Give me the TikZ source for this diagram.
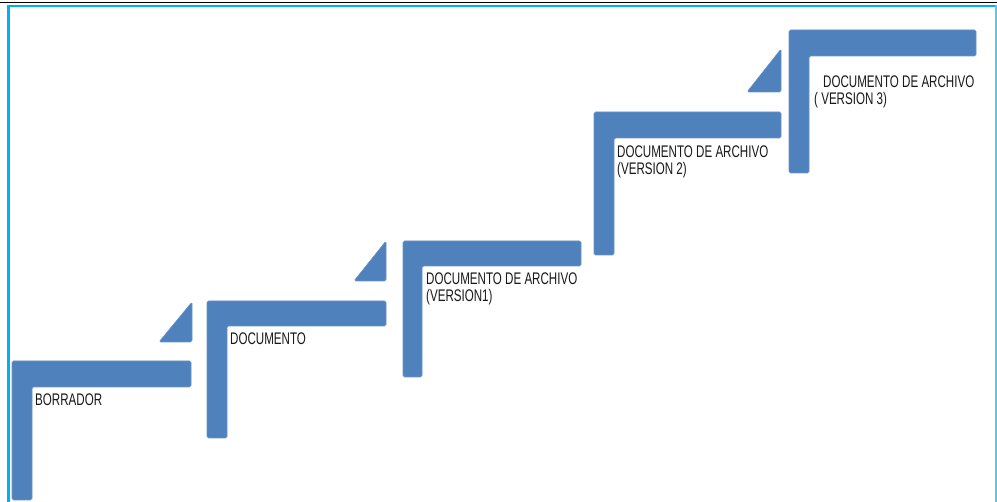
\documentclass[tikz,border=0pt]{standalone}
\usepackage{fontspec}
\setmainfont{Liberation Sans}[FakeStretch=0.69]
\definecolor{stepblue}{HTML}{4F81BD}
\definecolor{framecyan}{HTML}{00B0F0}
\definecolor{framecyanlight}{HTML}{55C8EE}
\begin{document}
\begin{tikzpicture}[x=1pt,y=-1pt,
  stairshape/.style={fill=stepblue, draw=stepblue!85!white, line width=0.6pt, rounded corners=1.5pt},
  label/.style={anchor=north west, inner sep=0pt, align=left, font=\fontsize{16.8}{17.5}\selectfont, text=black!90}]
\useasboundingbox (0,0) rectangle (997,502);
\fill[white] (0,0) rectangle (997,502);
% frame
\draw[black, line width=1.2pt] (0,2.2) -- (997,2.2);
\draw[framecyan, line width=2.4pt] (8.5,6.2) -- (997,6.2);
\draw[framecyan, line width=2.4pt] (8.5,5) -- (8.5,502);
\draw[framecyanlight, line width=2.2pt] (995.6,5) -- (995.6,502);
% L shapes
\newcommand{\lshape}[6]{\path[stairshape] (#1,#3) -- (#2,#3) -- (#2,#4) -- (#5,#4) -- (#5,#6) -- (#1,#6) -- cycle;}
\lshape{12}{191}{361}{387}{32}{500}
\lshape{207}{386}{301}{326}{227}{438}
\lshape{403}{581}{241}{266}{422}{377}
\lshape{594}{781}{112}{138}{614}{255}
\lshape{789}{976}{30}{56}{809}{173}
% triangles
\path[stairshape] (159,342) -- (192,302) -- (192,342) -- cycle;
\path[stairshape] (354,281) -- (386,241) -- (386,281) -- cycle;
\path[stairshape] (747,92) -- (781,49) -- (781,92) -- cycle;
% labels
\node[label] (t1) at (35,393.2) {BORRADOR};
\node[label] (t2) at (230,332.2) {DOCUMENTO};
\node[label] (t3) at (426,272.2) {DOCUMENTO DE ARCHIVO\\(VERSION1)};
\node[label] (t4) at (617,145.2) {DOCUMENTO DE ARCHIVO\\(VERSION 2)};
\node[label] (t5) at (814,75.2) {\hspace*{9pt}DOCUMENTO DE ARCHIVO\\( VERSION 3)};
\end{tikzpicture}
\end{document}
